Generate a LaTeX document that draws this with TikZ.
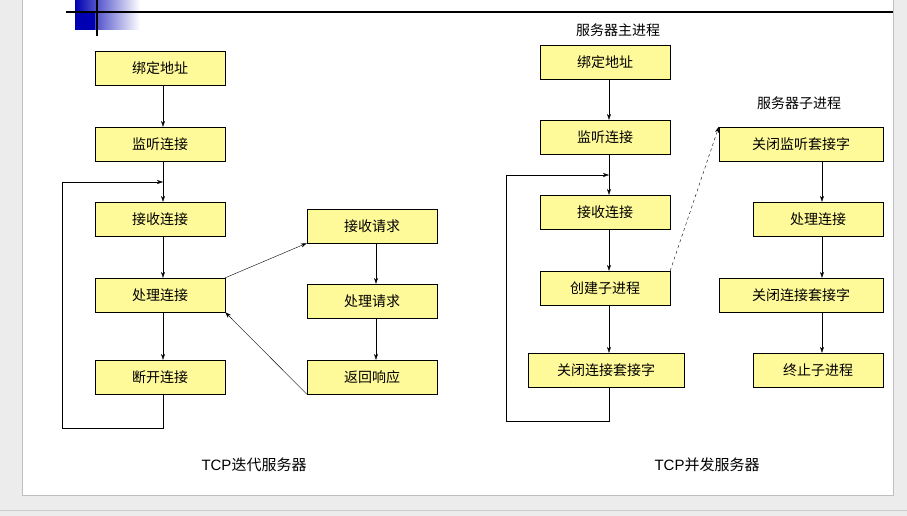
\documentclass[tikz,border=0pt]{standalone}
\usepackage{fontspec}
\newfontfamily\cjk{Noto Sans CJK SC}
\setmainfont{Liberation Sans}
\usetikzlibrary{arrows.meta}
\begin{document}
\begin{tikzpicture}[x=1pt,y=-1pt,
 bx/.style={draw=black,fill=yellow!40,minimum height=34pt,inner sep=2pt,font=\cjk\fontsize{14}{14}\selectfont},
 w130/.style={bx,minimum width=130pt},
 ar/.style={-{Stealth[length=6pt,width=4pt]},thin},
 lb/.style={font=\cjk\fontsize{14}{14}\selectfont}]
\useasboundingbox (0,0) rectangle (907,516);
\fill[gray!15] (0,0) rectangle (907,516);
\fill[white,draw=gray!50] (22,-2) rectangle (893,495);
\draw[gray!40] (0,510) -- (907,510);
% decoration
\shade[left color=blue!70!black,right color=white] (75,0) rectangle (140,30);
\fill[blue!70!black] (75,12) rectangle (95,30);
\draw[black,line width=1.5pt] (66,12) -- (893,12);
\draw[black,line width=1.5pt] (97,0) -- (97,36);
% left
\node[w130] (a1) at (160,68) {绑定地址};
\node[w130] (a2) at (160,144) {监听连接};
\node[w130] (a3) at (160,219) {接收连接};
\node[w130] (a4) at (160,295) {处理连接};
\node[w130] (a5) at (160,377) {断开连接};
\node[w130] (b1) at (372,226) {接收请求};
\node[w130] (b2) at (372,301) {处理请求};
\node[w130] (b3) at (372,377) {返回响应};
\coordinate (lj) at (163,182);
\draw[ar] (a1.south-|163,0) -- (a2.north-|163,0);
\draw[ar] (a2.south-|163,0) -- (a3.north-|163,0);
\draw[ar] (a3.south-|163,0) -- (a4.north-|163,0);
\draw[ar] (a4.south-|163,0) -- (a5.north-|163,0);
\draw[ar] (a5.south-|163,0) -- (163,428) -- (62,428) -- (62,182) -- (lj);
\draw[ar] (b1.south-|376,0) -- (b2.north-|376,0);
\draw[ar] (b2.south-|376,0) -- (b3.north-|376,0);
\draw[ar] (a4.north east) -- (b1.south west);
\draw[ar] (b3.south west) -- (a4.south east);
\node[font=\fontsize{15}{15}\selectfont] (c1) at (254,465) {TCP{\cjk 迭代服务器}};
% right
\node[lb] (m0) at (618,30) {服务器主进程};
\node[w130] (m1) at (605,62) {绑定地址};
\node[w130] (m2) at (605,137) {监听连接};
\node[w130] (m3) at (605,212) {接收连接};
\node[w130] (m4) at (605,288) {创建子进程};
\node[bx,minimum width=156pt] (m5) at (606,370) {关闭连接套接字};
\draw[ar] (m1.south-|609,0) -- (m2.north-|609,0);
\draw[ar] (m2.south-|609,0) -- (m3.north-|609,0);
\draw[ar] (m3.south-|609,0) -- (m4.north-|609,0);
\draw[ar] (m4.south-|609,0) -- (m5.north-|609,0);
\coordinate (rj) at (609,175);
\draw[ar] (m5.south-|609,0) -- (609,421) -- (506,421) -- (506,175) -- (rj);
\node[lb] (s0) at (799,103) {服务器子进程};
\node[bx,minimum width=164pt] (s1) at (801,144) {关闭监听套接字};
\node[w130] (s2) at (818,219) {处理连接};
\node[bx,minimum width=164pt] (s3) at (801,295) {关闭连接套接字};
\node[w130] (s4) at (818,370) {终止子进程};
\draw[ar] (s1.south-|822,0) -- (s2.north-|822,0);
\draw[ar] (s2.south-|822,0) -- (s3.north-|822,0);
\draw[ar] (s3.south-|822,0) -- (s4.north-|822,0);
\draw[ar,dashed] (m4.north east) -- (s1.north west);
\node[font=\fontsize{15}{15}\selectfont] (c2) at (707,465) {TCP{\cjk 并发服务器}};
\end{tikzpicture}
\end{document}
